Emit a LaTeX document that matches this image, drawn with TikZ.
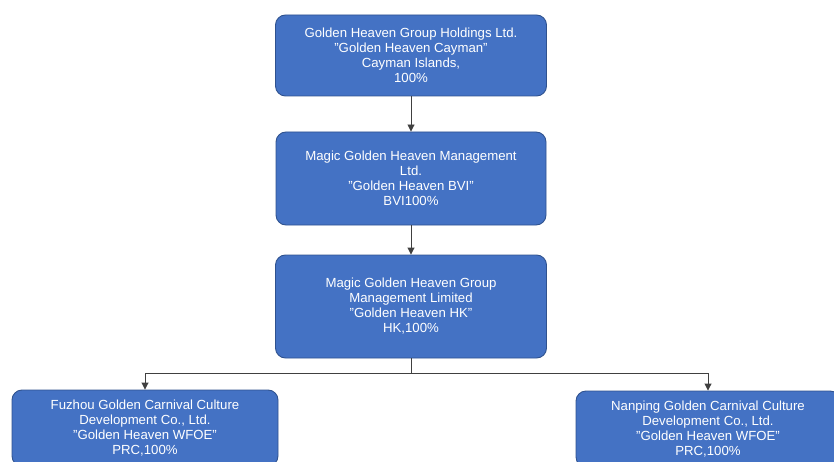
\documentclass[tikz,border=0pt]{standalone}
\usepackage{fontspec}
\setmainfont{Liberation Sans}
\usetikzlibrary{arrows.meta}
\definecolor{boxfill}{HTML}{4472C4}
\definecolor{boxline}{HTML}{2F528F}
\definecolor{linegray}{HTML}{404040}
\tikzset{
  entity/.style={draw=boxline, line width=0.9pt, fill=boxfill, rounded corners=10pt,
    text=white, align=center, inner sep=0pt,
    font=\fontsize{13.2}{15}\selectfont},
  arr/.style={draw=linegray, line width=0.9pt, -{Triangle[length=7pt,width=7pt]}}
}
\begin{document}
\begin{tikzpicture}[x=1pt,y=-1pt]
\useasboundingbox (0,0) rectangle (834,462);
\node[entity, minimum width=271pt, minimum height=81pt] (b1) at (411,55.5)
  {Golden Heaven Group Holdings Ltd.\\"Golden Heaven Cayman"\\Cayman Islands,\\100\%};
\node[entity, minimum width=270pt, minimum height=93pt] (b2) at (411,178.5)
  {Magic Golden Heaven Management\\Ltd.\\"Golden Heaven BVI"\\BVI100\%};
\node[entity, minimum width=271pt, minimum height=103pt] (b3) at (411,306.5)
  {Magic Golden Heaven Group\\Management Limited\\"Golden Heaven HK"\\HK,100\%};
\node[entity, minimum width=266pt, minimum height=76pt] (b4) at (145,428)
  {Fuzhou Golden Carnival Culture\\Development Co., Ltd.\\"Golden Heaven WFOE"\\PRC,100\%};
\node[entity, minimum width=264pt, minimum height=76pt] (b5) at (708,429)
  {Nanping Golden Carnival Culture\\Development Co., Ltd.\\"Golden Heaven WFOE"\\PRC,100\%};
\draw[arr] (b1.south) -- (b2.north);
\draw[arr] (b2.south) -- (b3.north);
\coordinate (bus) at ([yshift=-15pt]b3.south);
\draw[arr] (b3.south) -- (bus) -| (b4.north);
\draw[arr] (bus) -| (b5.north);
\end{tikzpicture}
\end{document}
